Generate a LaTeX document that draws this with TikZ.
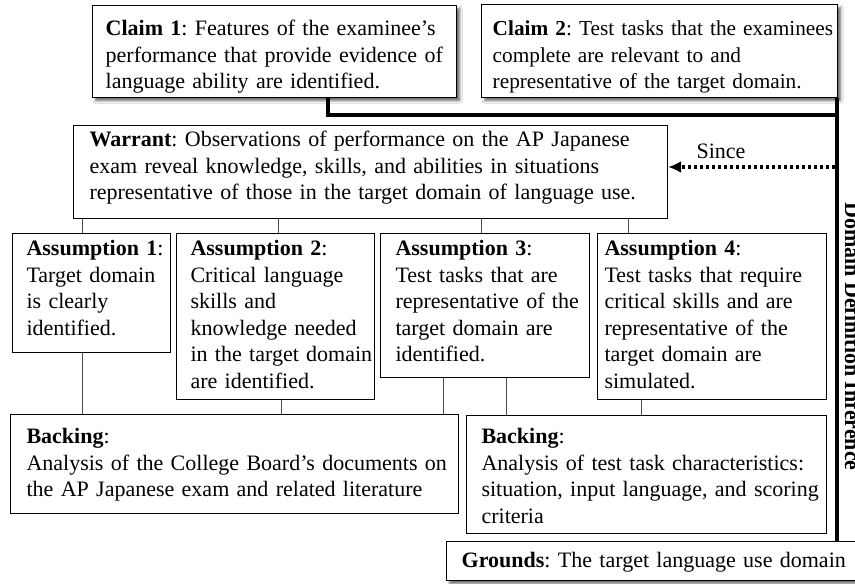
\documentclass[tikz,border=0pt]{standalone}
\usepackage{fontspec}
\setmainfont{Liberation Serif}
\usetikzlibrary{arrows.meta,shadows.blur}
\newcommand\argfont{\fontsize{22}{26.5}\selectfont\frenchspacing}
% lines of a box, never rewrapped
\newcommand\argtext[1]{\begin{tabular}[t]{@{}l@{}}#1\end{tabular}}
\tikzset{
	argbox/.style={draw, fill=white, line width=1.1pt, anchor=north west, align=left,
			inner ysep=0pt, inner xsep=#1, font=\argfont},
	argbox/.default=13pt,
	claimbox/.style={argbox=#1, line width=1.4pt,
			blur shadow={shadow xshift=3pt, shadow yshift=-3pt, shadow blur radius=2.5pt, shadow opacity=60}},
	claimbox/.default=13pt,
	inference/.style={line width=4pt},
	link/.style={draw=black!70, line width=0.9pt},
	sincearrow/.style={line width=3.5pt, dash pattern=on 3.5pt off 2.5pt, -{Latex[length=13pt,width=12pt]}}
}

\begin{document}
\begin{tikzpicture}[x=1pt, y=-1pt]
	\useasboundingbox[fill=white] (0,0) rectangle (855,584);

	% claims
	\node[claimbox, text width=338pt, text height=30pt, text depth=62pt] (claim1) at (92,5)
		{\argtext{\textbf{Claim 1}: Features of the examinee's\\performance that provide evidence of\\language ability are identified.}};
	\node[claimbox=11pt, text width=334pt, text height=31pt, text depth=62pt,
		font=\fontsize{21.3}{26.5}\selectfont\frenchspacing] (claim2) at (481,4)
		{\argtext{\textbf{Claim 2}: Test tasks that the examinees\\complete are relevant to and\\representative of the target domain.}};

	% warrant and assumptions
	\node[argbox=16pt, text width=562pt, text height=21pt, text depth=72pt] (warrant) at (73,125)
		{\argtext{\textbf{Warrant}: Observations of performance on the AP Japanese\\exam reveal knowledge, skills, and abilities in situations\\representative of those in the target domain of language use.}};
	\node[argbox=14pt, text width=130pt, text height=22pt, text depth=97pt] (a1) at (12,233)
		{\argtext{\textbf{Assumption 1}:\\Target domain\\is clearly\\identified.}};
	\node[argbox=14pt, text width=170pt, text height=22pt, text depth=144pt] (a2) at (176,233)
		{\argtext{\textbf{Assumption 2}:\\Critical language\\skills and\\knowledge needed\\in the target domain\\are identified.}};
	\node[argbox=15pt, text width=179pt, text height=22pt, text depth=122pt] (a3) at (380,233)
		{\argtext{\textbf{Assumption 3}:\\Test tasks that are\\representative of the\\target domain are\\identified.}};
	\node[argbox=7pt, text width=215pt, text height=22pt, text depth=144pt] (a4) at (597,233)
		{\argtext{\textbf{Assumption 4}:\\Test tasks that require\\critical skills and are\\representative of the\\target domain are\\simulated.}};

	% backing and grounds
	\node[argbox=16pt, text width=416pt, text height=29pt, text depth=70pt] (b1) at (10,414)
		{\argtext{\textbf{Backing}:\\Analysis of the College Board's documents on\\the AP Japanese exam and related literature}};
	\node[argbox=15pt, text width=330pt, text height=28pt, text depth=90pt] (b2) at (466,415)
		{\argtext{\textbf{Backing}:\\Analysis of test task characteristics:\\situation, input language, and scoring\\criteria}};
	\node[claimbox=15pt, text width=386pt, text height=26pt, text depth=13pt] (grounds) at (446,541)
		{\argtext{\textbf{Grounds}: The target language use domain}};

	\node[font=\argfont, anchor=base] (since) at (721,158) {Since};
	\node[font=\argfont\bfseries, rotate=-90, anchor=base] (ddi) at (845,336.5) {Domain Definition Inference};

	% links
	\draw[link] ([xshift=-9pt]a1.north) -- ([xshift=-9pt]a1.north |- warrant.south);
	\draw[link] ([xshift=3pt]a2.north) -- ([xshift=3pt]a2.north |- warrant.south);
	\draw[link] ([xshift=-3.5pt]a3.north) -- ([xshift=-3.5pt]a3.north |- warrant.south);
	\draw[link] ([xshift=-83.5pt]a4.north) -- ([xshift=-83.5pt]a4.north |- warrant.south);
	\draw[link] ([xshift=-9pt]a1.south) -- ([xshift=-9pt]a1.south |- b1.north);
	\draw[link] ([xshift=6pt]a2.south) -- ([xshift=6pt]a2.south |- b1.north);
	\draw[link] ([xshift=-41.5pt]a3.south) -- ([xshift=-41.5pt]a3.south |- b1.north);
	\draw[link] ([xshift=21.5pt]a3.south) -- ([xshift=21.5pt]a3.south |- b2.north);
	\draw[link] ([xshift=-70.5pt]a4.south) -- ([xshift=-70.5pt]a4.south |- b2.north);

	% inference spine
	\coordinate (join) at (837.5,115);
	\draw[inference] ([xshift=53pt]claim1.south) |- (join);
	\draw[inference] ([xshift=-1pt]claim2.south east) -- ([xshift=-1pt]claim2.south east |- grounds.north);
	\coordinate (sincestart) at (835,167);
	\draw[sincearrow] (sincestart) -- (sincestart -| warrant.east);
\end{tikzpicture}
\end{document}
